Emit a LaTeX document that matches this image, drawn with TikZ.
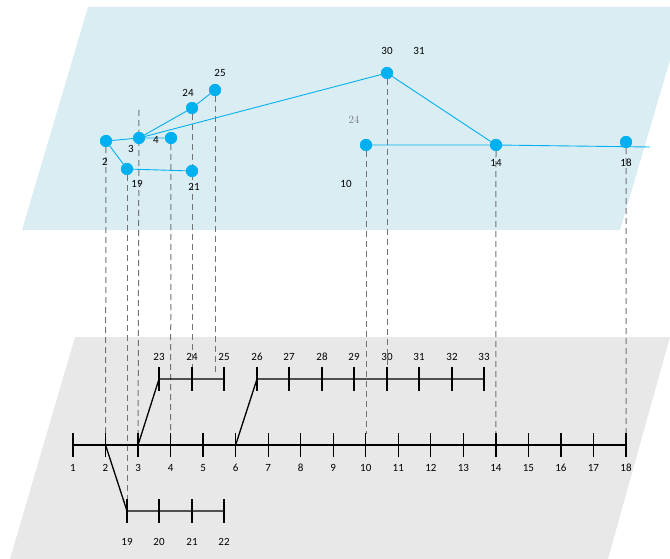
\documentclass[tikz,border=0pt]{standalone}
\usepackage{fontspec}
\setsansfont{Carlito}
\usetikzlibrary{positioning}

\definecolor{topplane}{RGB}{218,237,243}
\definecolor{lowplane}{RGB}{232,232,232}
\definecolor{busblue}{RGB}{0,176,240}
\definecolor{dropgray}{RGB}{115,115,115}

\tikzset{
  lbl/.style={font=\sffamily\fontsize{11}{13}\selectfont,inner sep=0pt},
  bus/.style={circle,fill=busblue,inner sep=0pt,minimum size=12pt},
  feeder/.style={line width=1.3pt,black},
  tickmark/.style={line width=1.3pt,black},
  link/.style={busblue,line width=0.9pt},
  drop/.style={dropgray,line width=1pt,dash pattern=on 6pt off 4pt}
}

\begin{document}
\begin{tikzpicture}[x=1pt,y=-1pt]
\useasboundingbox (0,0) rectangle (670,559);

% the two planes
\fill[topplane] (88,7) -- (670,7) -- (670,60) -- (620,230) -- (22,230) -- cycle;
\fill[lowplane] (75,337) -- (670,337) -- (608,559) -- (10,559) -- cycle;

% lower plane: bus coordinates
\foreach \i in {1,...,18} {
  \pgfmathsetmacro\xx{73+(\i-1)*32.53}
  \coordinate (b\i) at (\xx,445);
  \node[lbl] (lb\i) at (\xx,468) {\i};
}
\foreach \i/\xx in {19/127,20/159,21/192,22/224} {
  \coordinate (b\i) at (\xx,511);
  \node[lbl] (lb\i) at (\xx,542) {\i};
}
\foreach \i/\xx in {23/159,24/192,25/224,26/257,27/289,28/322,29/354,30/387,31/419,32/452,33/484} {
  \coordinate (b\i) at (\xx,379);
  \node[lbl] (lb\i) at (\xx,357) {\i};
}

% upper plane: measured buses
\node[bus] (t2) at (106,141) {};
\node[bus] (t3) at (139,138) {};
\node[bus] (t4) at (171,138) {};
\node[bus] (t19) at (127,169) {};
\node[bus] (t21) at (192,171) {};
\node[bus] (t24) at (192,108) {};
\node[bus] (t25) at (215,90) {};
\node[bus] (t30) at (387,73) {};
\node[bus] (t10) at (366,145) {};
\node[bus] (t14) at (496,145) {};
\node[bus] (t18) at (626,142) {};
\coordinate (top3) at (139,110);
\coordinate (end25) at (215,373);
\coordinate (end10) at (366,434);
\coordinate (endline) at (650,147);

% projections
\draw[drop] (t2) -- (b2);
\draw[drop] (t19) -- (b19);
\draw[drop] (top3) -- (b3);
\draw[drop] (t4) -- (b4);
\draw[drop] (t24) -- (b24);
\draw[drop] (t25) -- (end25);
\draw[drop] (t10) -- (end10);
\draw[drop] (t30) -- (b30);
\draw[drop] (t14) -- (b14);
\draw[drop] (t18) -- (b18);

% upper plane links
\draw[link] (t2) -- (t3) -- (t4);
\draw[link] (t2) -- (t19) -- (t21);
\draw[link] (t3) -- (t24) -- (t25);
\draw[link] (t3) -- (t30) -- (t14);
\draw[link] (t10) -- (t14) -- (endline);
\foreach \n in {t2,t3,t4,t19,t21,t24,t25,t30,t10,t14,t18}
  \node[bus] at (\n) {};

% upper plane labels
\node[lbl] (lt2) at (105,162) {2};
\node[lbl] (lt3) at (131,149) {3};
\node[lbl] (lt4) at (156,140) {4};
\node[lbl] (lt19) at (137,184) {19};
\node[lbl] (lt21) at (194,187) {21};
\node[lbl] (lt24) at (188,93) {24};
\node[lbl] (lt25) at (220,73) {25};
\node[lbl] (lt30) at (387,51) {30};
\node[lbl] (lt31) at (419,51) {31};
\node[inner sep=0pt,text=dropgray,font=\rmfamily\fontsize{11}{13}\selectfont] (lt24b) at (354,120) {24};
\node[lbl] (lt10) at (346,184) {10};
\node[lbl] (lt14) at (496,163) {14};
\node[lbl] (lt18) at (626,163) {18};

% lower plane feeders
\draw[feeder] (b1) -- (b18);
\draw[feeder] (b3) -- (b23) -- (b25);
\draw[feeder] (b6) -- (b26) -- (b33);
\draw[feeder] (b2) -- (b19) -- (b22);
\foreach \i in {1,...,33}
  \draw[tickmark] ([yshift=12pt]b\i) -- ([yshift=-12pt]b\i);
\end{tikzpicture}
\end{document}
